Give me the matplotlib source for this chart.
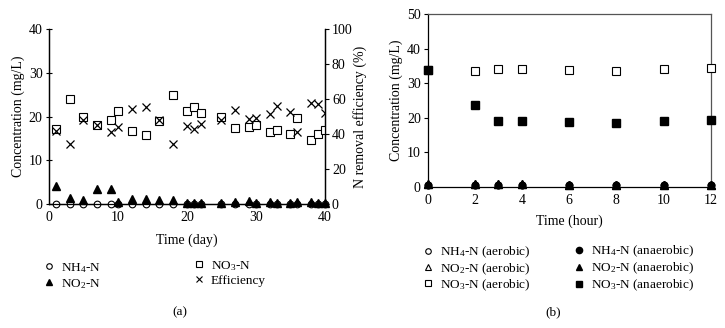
import matplotlib
matplotlib.use("Agg")
import matplotlib.pyplot as plt
from matplotlib.lines import Line2D

plt.rcParams['font.family'] = ['Liberation Serif', 'DejaVu Serif']
plt.rcParams['mathtext.default'] = 'regular'

# ---- Panel (a) data ----
days = [1, 3, 5, 7, 9, 10, 12, 14, 16, 18, 20, 21, 22, 25, 27, 29, 30, 32, 33, 35, 36, 38, 39, 40]
nh4_a = [0.0] * len(days)
no2_a = [4.1, 1.2, 0.8, 3.4, 3.4, 0.5, 1.0, 1.0, 0.8, 0.8, 0.1, 0.1, 0.1, 0.2, 0.4, 0.6, 0.2, 0.3, 0.2, 0.1, 0.3, 0.4, 0.1, 0.1]
no3_a = [17.1, 24.0, 19.9, 18.1, 19.1, 21.2, 16.7, 15.8, 18.9, 24.9, 21.2, 22.1, 20.9, 19.9, 17.3, 17.7, 18.0, 16.5, 16.8, 16.1, 19.7, 14.6, 16.0, 16.8]
eff_a = [41.9, 34.2, 48.2, 45.1, 41.1, 43.8, 54.5, 55.4, 48.2, 34.2, 44.6, 42.6, 45.9, 48.0, 53.9, 48.8, 49.1, 51.2, 56.2, 52.8, 41.3, 57.5, 57.2, 52.2]

# ---- Panel (b) data ----
hours = [0, 2, 3, 4, 6, 8, 10, 12]
nh4_aer = [0.4, 0.4, 0.4, 0.4, 0.4, 0.4, 0.4, 0.4]
no2_aer = [0.9, 0.9, 0.9, 0.9, 0.6, 0.6, 0.5, 0.6]
no3_aer = [33.8, 33.6, 34.1, 34.1, 33.9, 33.5, 34.0, 34.3]
nh4_an = [0.5, 0.5, 0.5, 0.5, 0.5, 0.5, 0.5, 0.5]
no2_an = [0.9, 0.9, 0.9, 0.9, 0.6, 0.6, 0.5, 0.6]
no3_an = [33.8, 23.6, 19.0, 19.0, 18.8, 18.4, 18.9, 19.2]

W, H = 725, 328
fig = plt.figure(figsize=(W / 100, H / 100), dpi=100)

def px_axes(left, top, right, bottom):
    return fig.add_axes([left / W, 1 - bottom / H, (right - left) / W, (bottom - top) / H])

FS = 10
LFS = 9.5
ms_sq = 6.0
ms_c = 4.8
ms_t = 5.5
ms_x = 6.0

def col_legend(handles, labels, marker_x, top_y, spacing=0.15):
    hl = 0.8
    hw = LFS * hl * 100 / 72.0
    fig.legend(handles, labels, loc='upper left',
               bbox_to_anchor=((marker_x - hw / 2) / W, 1 - top_y / H),
               frameon=False, fontsize=LFS, handlelength=hl, handletextpad=0.5,
               labelspacing=spacing, borderaxespad=0, borderpad=0)

# ===== Panel (a) =====
axa = px_axes(49, 29.3, 325, 203.7)
axa.plot(days, nh4_a, 'o', mfc='white', mec='black', ms=ms_c, mew=0.8, clip_on=False, zorder=3)
axa.plot(days, no2_a, '^', color='black', ms=ms_t, clip_on=False, zorder=4)
axa.plot(days, no3_a, 's', mfc='white', mec='black', ms=ms_sq, mew=0.8, zorder=3)
axa.set_xlim(0, 40)
axa.set_ylim(0, 40)
axa.set_xticks([0, 10, 20, 30, 40])
axa.set_yticks([0, 10, 20, 30, 40])
axa.set_xlabel('Time (day)', fontsize=FS, labelpad=7)
axa.set_ylabel('Concentration (mg/L)', fontsize=FS, labelpad=3)
axa.tick_params(axis='y', labelsize=FS, length=5, width=0.8, pad=2, direction='inout')
axa.tick_params(axis='x', labelsize=FS, length=0, width=0.8, pad=5)
axa.spines['top'].set_visible(False)
for s in axa.spines.values():
    s.set_linewidth(0.9)

axa2 = axa.twinx()
axa2.plot(days, eff_a, 'x', color='black', ms=ms_x, mew=0.9)
axa2.set_ylim(0, 100)
axa2.set_yticks([0, 20, 40, 60, 80, 100])
axa2.set_ylabel('N removal efficiency (%)', fontsize=FS, labelpad=0)
axa2.tick_params(labelsize=FS, length=3, width=0.8, pad=2)
axa2.spines['top'].set_visible(False)
for s in axa2.spines.values():
    s.set_linewidth(0.9)

ha1 = [Line2D([], [], ls='', marker='o', mfc='white', mec='black', ms=4, mew=0.8),
       Line2D([], [], ls='', marker='^', color='black', ms=4.5)]
ha2 = [Line2D([], [], ls='', marker='s', mfc='white', mec='black', ms=4.5, mew=0.8),
       Line2D([], [], ls='', marker='x', color='black', ms=4.5, mew=0.8)]
col_legend(ha1, ['NH$_4$-N', 'NO$_2$-N'], 49, 261)
col_legend(ha2, ['NO$_3$-N', 'Efficiency'], 199, 259)
fig.text(180 / W, 1 - 312 / H, '(a)', ha='center', va='center', fontsize=LFS)

# ===== Panel (b) =====
axb = px_axes(427.7, 14, 710.7, 186.7)
axb.plot(hours, nh4_aer, 'o', mfc='white', mec='black', ms=ms_c, mew=0.8, clip_on=False, zorder=3)
axb.plot(hours, no2_aer, '^', mfc='white', mec='black', ms=ms_t, mew=0.8, clip_on=False, zorder=3)
axb.plot(hours, no3_aer, 's', mfc='white', mec='black', ms=ms_sq, mew=0.8, clip_on=False, zorder=3)
axb.plot(hours, nh4_an, 'o', color='black', ms=ms_c, clip_on=False, zorder=4)
axb.plot(hours, no2_an, '^', color='black', ms=ms_t, clip_on=False, zorder=4)
axb.plot(hours, no3_an, 's', color='black', ms=ms_sq, clip_on=False, zorder=4)
axb.set_xlim(0, 12)
axb.set_ylim(0, 50)
axb.set_xticks([0, 2, 4, 6, 8, 10, 12])
axb.set_yticks([0, 10, 20, 30, 40, 50])
axb.set_xlabel('Time (hour)', fontsize=FS, labelpad=6)
axb.set_ylabel('Concentration (mg/L)', fontsize=FS, labelpad=3)
axb.tick_params(axis='y', labelsize=FS, length=3, width=0.8, pad=2)
axb.tick_params(axis='x', labelsize=FS, length=0, width=0.8, pad=5)
for name, s in axb.spines.items():
    s.set_linewidth(0.9)
    if name in ('top', 'right'):
        s.set_color('#555555')

hb1 = [Line2D([], [], ls='', marker='o', mfc='white', mec='black', ms=4, mew=0.8),
       Line2D([], [], ls='', marker='^', mfc='white', mec='black', ms=4.5, mew=0.8),
       Line2D([], [], ls='', marker='s', mfc='white', mec='black', ms=4.5, mew=0.8)]
hb2 = [Line2D([], [], ls='', marker='o', color='black', ms=4.5),
       Line2D([], [], ls='', marker='^', color='black', ms=4.5),
       Line2D([], [], ls='', marker='s', color='black', ms=4.5)]
col_legend(hb1, ['NH$_4$-N (aerobic)', 'NO$_2$-N (aerobic)', 'NO$_3$-N (aerobic)'], 428, 245, 0.05)
col_legend(hb2, ['NH$_4$-N (anaerobic)', 'NO$_2$-N (anaerobic)', 'NO$_3$-N (anaerobic)'], 579, 244, 0.12)
fig.text(553 / W, 1 - 312 / H, '(b)', ha='center', va='center', fontsize=LFS)

fig.savefig('out.png', dpi=100)
